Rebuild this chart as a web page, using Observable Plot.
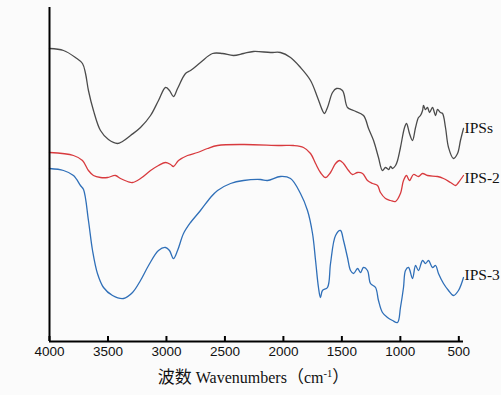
<!DOCTYPE html>
<html><head><meta charset="utf-8">
<script src="https://cdn.jsdelivr.net/npm/d3@7"></script>
<script src="https://cdn.jsdelivr.net/npm/@observablehq/plot@0.6"></script>
<style>body{margin:0;background:#fbfbfb;overflow:hidden}</style>
</head><body><div id="chart"></div>
<script>
// Series names
const seriesNames = ["IPSs", "IPS-2", "IPS-3"];
// [wavenumber (cm-1), relative transmittance (a.u.)]
const ipss = [[4000,293],[3880,291],[3778,284],[3718,278],[3692,268],[3667,251],[3624,231],[3564,211],[3496,202],[3419,198],[3376,200],[3307,206],[3222,214],[3136,226],[3068,241],[3008,254],[2974,251],[2940,245],[2905,253],[2837,268],[2794,271],[2709,279],[2606,288],[2521,288],[2427,286],[2341,288],[2256,290],[2110,289],[2025,289],[1939,284],[1854,274],[1768,261],[1708,244],[1666,231],[1649,228],[1623,234],[1580,249],[1546,253],[1495,251],[1452,234],[1400,231],[1315,226],[1272,213],[1229,201],[1187,184],[1153,171],[1127,174],[1100,172],[1084,175],[1067,173],[1041,176],[1024,181],[999,194],[964,214],[947,218],[922,208],[896,201],[870,214],[845,224],[828,226],[810,231],[802,236],[785,232],[768,234],[750,229],[725,234],[699,226],[682,232],[657,229],[639,228],[614,214],[588,194],[546,183],[511,188],[486,201],[460,213]];
const ips2 = [[4000,189],[3795,186],[3718,181],[3667,171],[3624,166],[3564,164],[3504,164],[3436,166],[3393,163],[3333,160],[3290,159],[3222,163],[3136,171],[3068,176],[3008,179],[2965,177],[2940,175],[2897,181],[2820,186],[2734,189],[2649,193],[2563,196],[2341,197],[2025,196],[1914,196],[1828,194],[1768,188],[1725,178],[1683,169],[1640,164],[1597,169],[1554,178],[1520,181],[1486,178],[1443,171],[1409,167],[1366,169],[1323,168],[1281,161],[1238,158],[1195,156],[1170,149],[1127,143],[1084,141],[1041,140],[999,148],[973,161],[947,166],[922,161],[887,167],[845,165],[810,168],[768,166],[682,165],[631,163],[571,159],[528,156],[503,159],[460,166]];
const ips3 = [[4000,173],[3880,171],[3795,166],[3735,156],[3709,152],[3667,121],[3632,91],[3590,68],[3538,54],[3461,46],[3367,43],[3290,49],[3222,61],[3153,76],[3068,91],[3008,94],[2974,91],[2940,83],[2905,91],[2854,108],[2794,119],[2709,131],[2623,144],[2563,151],[2452,158],[2341,161],[2196,162],[2136,161],[2025,165],[1939,163],[1854,148],[1794,131],[1751,108],[1725,81],[1700,54],[1683,44],[1666,51],[1623,54],[1597,78],[1554,106],[1512,111],[1486,101],[1452,84],[1426,71],[1400,68],[1366,73],[1341,69],[1315,74],[1281,71],[1255,58],[1212,54],[1187,41],[1153,29],[1110,24],[1067,21],[1024,19],[999,34],[973,54],[956,71],[930,74],[896,63],[870,76],[845,71],[810,81],[785,78],[759,81],[725,74],[699,76],[674,68],[631,58],[588,51],[546,46],[503,51],[460,64]];
const xTicks = [4000, 3500, 3000, 2500, 2000, 1500, 1000, 500];
// x-axis title pieces: [text, kind]
const xLabelParts = [["波数", "cjk"], [" Wavenumbers", "latin"], ["（", "cjk"], ["cm", "latin"], ["-1", "sup"], ["）", "cjk"]];

const seriesData = [ipss, ips2, ips3];
const rows = seriesNames.flatMap((s, i) => seriesData[i].map(([w, v]) => ({series: s, w, v})));
const lastRows = seriesNames.map((s, i) => { const a = seriesData[i]; const [w, v] = a[a.length - 1]; return {series: s, w, v}; });
const colors = ["#4b4b4b", "#d83a3e", "#2f6fb8"];
const labelDy = {"IPSs": 0, "IPS-2": 3, "IPS-3": -2};

const serif = "'Liberation Serif', 'Times New Roman', serif";
const cjk = "'Noto Sans CJK SC', sans-serif";
const sans = "'Liberation Sans', Arial, sans-serif";

const plot = Plot.plot({
  width: 501, height: 395,
  marginLeft: 49, marginRight: 38, marginTop: 7, marginBottom: 54,
  style: {background: "#fbfbfb", fontFamily: sans},
  x: {domain: [4000, 460]},
  y: {domain: [0, 334], axis: null},
  color: {domain: seriesNames, range: colors},
  marks: [
    Plot.lineY(rows, {x: "w", y: "v", z: "series", stroke: "series", strokeWidth: 1.3, curve: "catmull-rom"}),
    Plot.ruleX([4000], {stroke: "#000", strokeWidth: 2}),
    Plot.ruleY([0], {stroke: "#000", strokeWidth: 2}),
    Plot.tickX(xTicks, {x: d => d, insetTop: 329, stroke: "#000", strokeWidth: 2}),
    Plot.axisX({ticks: xTicks, tickSize: 0, tickPadding: 5, fontSize: 13.5, label: null, tickFormat: d => String(d), fill: "#111"}),
    ...seriesNames.map(s => Plot.text(lastRows.filter(d => d.series === s), {
      x: "w", y: "v", text: "series", dx: 1, dy: labelDy[s], textAnchor: "start",
      fontFamily: serif, fontSize: 15.5, fill: "#111"
    })),
    Plot.text([xLabelParts.map(d => d[0]).join("")], {frameAnchor: "bottom", text: d => d, dy: 41, dx: -3,
      fontFamily: serif, fontSize: 15, fill: "#111"})
  ]
});
document.getElementById("chart").appendChild(plot);

// per-script fonts and superscript for cm-1
d3.select(plot).selectAll("text").filter(function() { return this.textContent.includes("Wavenumbers"); })
  .each(function() {
    const t = d3.select(this);
    t.text("");
    let shifted = 0;
    for (const [str, kind] of xLabelParts) {
      const sp = t.append("tspan").text(str);
      if (kind === "cjk") sp.style("font-family", cjk).style("font-size", "17px");
      else sp.style("font-family", serif).style("font-size", kind === "sup" ? "10.5px" : "16px");
      if (kind === "sup") { sp.attr("dy", -6); shifted = 6; }
      else if (shifted) { sp.attr("dy", shifted); shifted = 0; }
    }
  });
</script>
</body></html>
